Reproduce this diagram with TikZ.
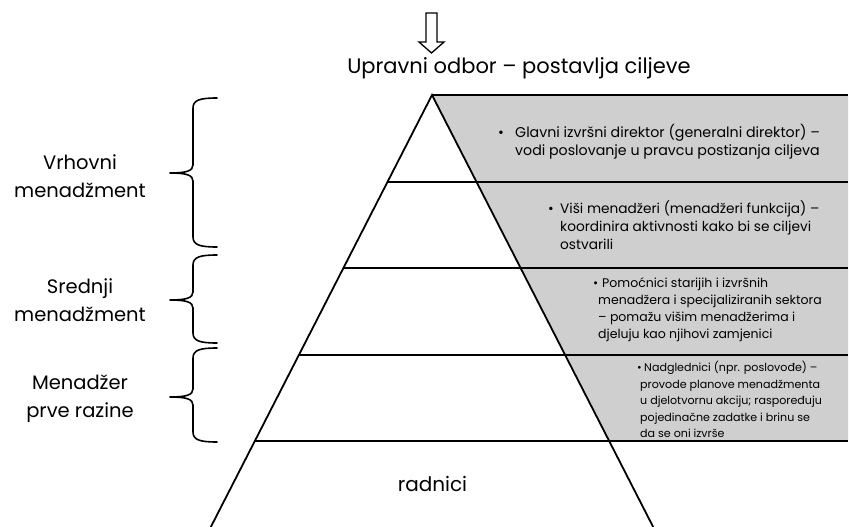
\documentclass[tikz,border=0pt]{standalone}
\usepackage{fontspec}
\setmainfont{Poppins}
\definecolor{bandgray}{RGB}{207,207,207}
\newcommand\bl[1]{\makebox[#1][l]{•}}
\newcommand\ind[1]{\hspace*{#1}}
\tikzset{
  edge/.style={line width=1.8pt, black},
  bracepath/.style={line width=1.6pt, black, line cap=round, line join=round},
  lefttext/.style={font=\fontsize{19.5}{28}\selectfont, align=center, inner sep=0pt},
  bandtext/.style={align=left, inner sep=0pt, anchor=north west},
}
\newcommand\mybrace[3]{% top, mid, bottom
  \draw[bracepath] (217,#1) .. controls (200,#1) and (193,#1+2) .. (193,#1+10)
     -- (193,#2-8) .. controls (193,#2-2) and (186,#2) .. (170,#2)
     .. controls (186,#2) and (193,#2+2) .. (193,#2+8)
     -- (193,#3-10) .. controls (193,#3-2) and (200,#3) .. (217,#3);}
\begin{document}
\begin{tikzpicture}[x=1pt,y=-1pt]
\useasboundingbox (0,0) rectangle (851,527);
% pyramid geometry
\coordinate (apex) at (432,95);
\coordinate (R0) at (848,95);
\coordinate (L1) at (387.5,182);   \coordinate (R1) at (848,182);
\coordinate (L2) at (343.4,268);   \coordinate (R2) at (848,268);
\coordinate (L3) at (298.9,355);   \coordinate (R3) at (848,355);
\coordinate (L4) at (254.8,441);   \coordinate (R4) at (848,441);
\coordinate (S4) at (609.2,441);
\coordinate (LB) at (210.8,527);   \coordinate (RB) at (653.2,527);
% grey band
\fill[bandgray] (apex) -- (R0) -- (R4) -- (S4) -- cycle;
% lines
\draw[edge] (apex) -- (R0);
\draw[edge] (L1) -- (R1);
\draw[edge] (L2) -- (R2);
\draw[edge] (L3) -- (R3);
\draw[edge] (L4) -- (R4);
\draw[edge, line join=miter] (LB) -- (apex) -- (RB);
% top arrow
\draw[line width=1.3pt, fill=white, line join=miter]
  (426,13) -- (437,13) -- (437,42) -- (444,42) -- (431.5,53) -- (419,42) -- (426,42) -- cycle;
\node[font=\fontsize{21}{24}\selectfont, anchor=base, inner sep=0pt] (title) at (519,74)
  {Upravni odbor – postavlja ciljeve};
% braces
\mybrace{98}{173}{247}
\mybrace{255}{300}{343}
\mybrace{348}{397}{442}
\node[lefttext] (lab1) at (80,176) {Vrhovni\\menadžment};
\node[lefttext] (lab2) at (80,300) {Srednji\\menadžment};
\node[lefttext] (lab3) at (80,398.5) {Menadžer\\prve razine};
% band texts
\node[bandtext, font=\fontsize{14.2}{18.5}\selectfont] (txt1) at (498,124)
  {\bl{17pt}Glavni izvršni direktor (generalni direktor) –\\
   \ind{17pt}vodi poslovanje u pravcu postizanja ciljeva};
\node[bandtext, font=\fontsize{13.7}{18}\selectfont] (txt2) at (548,201)
  {\bl{12pt}Viši menadžeri (menadžeri funkcija) –\\
   \ind{12pt}koordinira aktivnosti kako bi se ciljevi\\
   \ind{12pt}ostvarili};
\node[bandtext, font=\fontsize{12.5}{17}\selectfont] (txt3) at (593,278)
  {\bl{9pt}Pomoćnici starijih i izvršnih\\
   \ind{5pt}menadžera i specijaliziranih sektora\\
   \ind{5pt}– pomažu višim menadžerima i\\
   \ind{5pt}djeluju kao njihovi zamjenici};
\node[bandtext, font=\fontsize{11.1}{16.5}\selectfont] (txt4) at (637,361)
  {\bl{7pt}Nadglednici (npr. poslovođe) –\\
   \ind{3pt}provode planove menadžmenta\\
   \ind{3pt}u djelotvornu akciju; raspoređuju\\
   \ind{3pt}pojedinačne zadatke i brinu se\\
   \ind{3pt}da se oni izvrše};
\node[font=\fontsize{20}{26}\selectfont, anchor=base, inner sep=0pt] (workers) at (432.5,491) {radnici};
\end{tikzpicture}
\end{document}
